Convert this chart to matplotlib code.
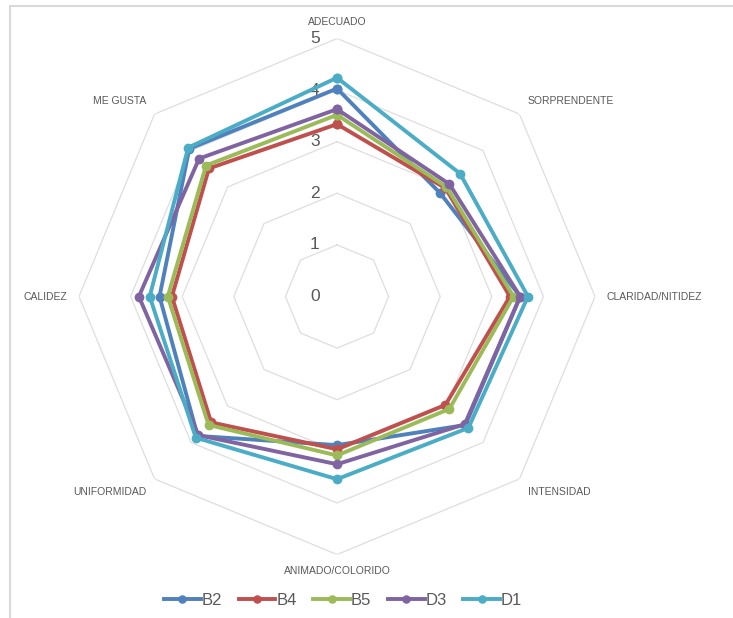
import numpy as np
import matplotlib.pyplot as plt
from matplotlib.patches import Rectangle

plt.rcParams['font.family'] = ['Liberation Sans', 'DejaVu Sans']

categories = ['ADECUADO', 'SORPRENDENTE', 'CLARIDAD/NITIDEZ', 'INTENSIDAD',
              'ANIMADO/COLORIDO', 'UNIFORMIDAD', 'CALIDEZ', 'ME GUSTA']

b2 = [4.03, 2.83, 3.55, 3.52, 2.88, 3.82, 3.44, 4.05]
b4 = [3.34, 2.97, 3.35, 2.97, 2.96, 3.45, 3.20, 3.51]
b5 = [3.52, 3.00, 3.42, 3.08, 3.08, 3.52, 3.28, 3.59]
d3 = [3.63, 3.08, 3.55, 3.50, 3.25, 3.80, 3.84, 3.78]
d1 = [4.24, 3.37, 3.70, 3.60, 3.54, 3.87, 3.63, 4.08]

series = [('B2', b2, '#4F81BD'), ('B4', b4, '#C0504D'), ('B5', b5, '#9BBB59'),
          ('D3', d3, '#8064A2'), ('D1', d1, '#4BACC6')]
levels = [0, 1, 2, 3, 4, 5]

n = len(categories)
ang = np.arange(n) * 2 * np.pi / n
ang_c = np.append(ang, ang[0])

fig = plt.figure(figsize=(7.33, 6.18), dpi=100)
fig.add_artist(Rectangle((10 / 733, -0.5), 2, 0.5 + 1 - 6 / 618, transform=fig.transFigure,
                         fill=False, edgecolor='#d9d9d9', lw=1.5))

ax = fig.add_axes([0.1078, 0.1027, 0.704, 0.835], polar=True)
ax.set_theta_zero_location('N')
ax.set_theta_direction(-1)
ax.set_ylim(0, 5)
ax.grid(False)
ax.spines['polar'].set_visible(False)
ax.set_xticks([])
ax.set_yticks([])
ax.patch.set_alpha(0)

# octagon gridlines
for lv in levels[1:]:
    ax.plot(ang_c, [lv] * (n + 1), color='#dedede', lw=0.9, zorder=1)
for lv in levels:
    ax.annotate(str(lv), (0, lv), xytext=(-16, 0), textcoords='offset points',
                ha='center', va='center', fontsize=12.5, color='#595959')

for name, vals, col in series:
    ax.plot(ang_c, vals + vals[:1], color=col, lw=2.8, marker='o', markersize=6,
            label=name, zorder=3)

# category labels around the outside
align = [('center', 'bottom'), ('left', 'bottom'), ('left', 'center'), ('left', 'top'),
         ('center', 'top'), ('right', 'top'), ('right', 'center'), ('right', 'bottom')]
for a, lab, (ha, va) in zip(ang, categories, align):
    ax.text(a, 5.22, lab, ha=ha, va=va, fontsize=7.5, color='#595959')

leg = fig.legend(loc='center', bbox_to_anchor=(0.468, 0.029), ncol=5, frameon=False,
                 fontsize=12, handlelength=2.2, handletextpad=0.05, columnspacing=1.0,
                 markerscale=0.85)
for t in leg.get_texts():
    t.set_color('#595959')

fig.savefig('out.png', dpi=100)
